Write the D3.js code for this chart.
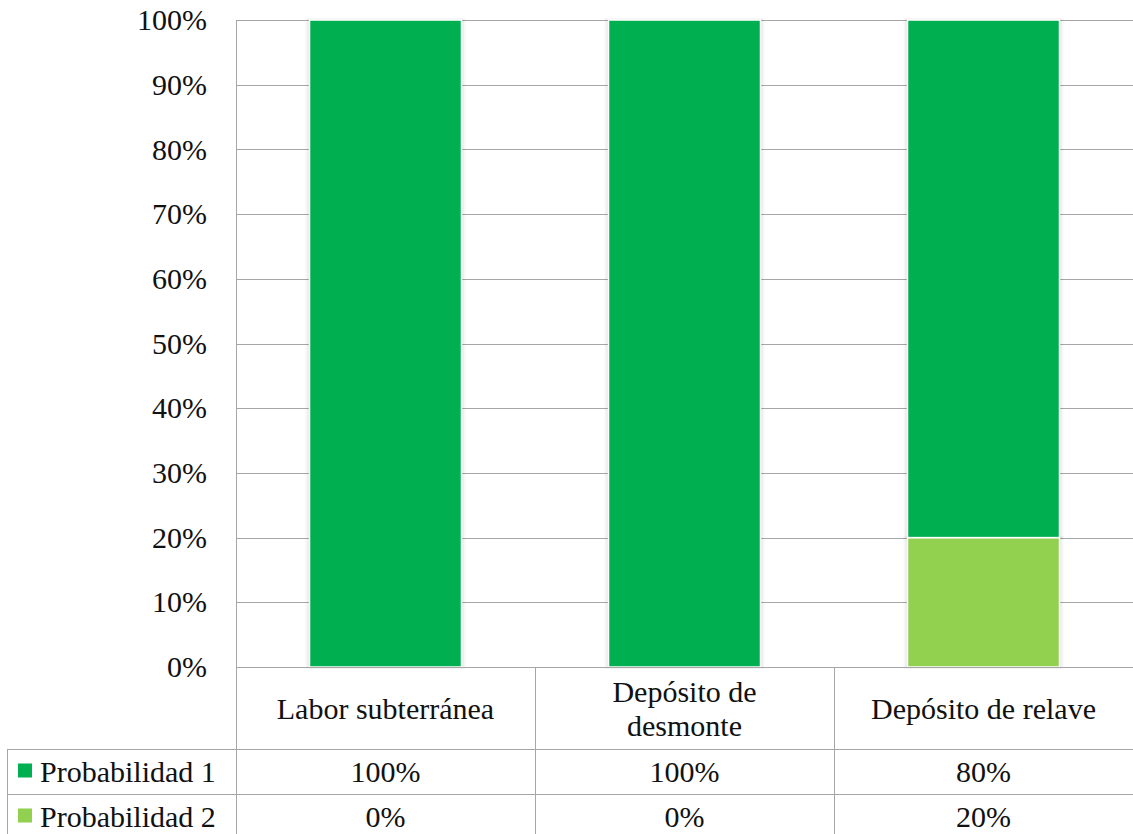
<!DOCTYPE html>
<html>
<head>
<meta charset="utf-8">
<script src="https://cdn.jsdelivr.net/npm/d3@7"></script>
<style>
  html, body { margin: 0; padding: 0; background: #ffffff; }
  svg { display: block; }
</style>
</head>
<body>
<svg id="s" width="1133" height="834"></svg>
<script>
// Categories and the two stacked series (shares of 1)
const categories = ["Labor subterránea", "Depósito de desmonte", "Depósito de relave"];
const categoryLines = [["Labor subterránea"], ["Depósito de", "desmonte"], ["Depósito de relave"]];
const seriesNames = ["Probabilidad 1", "Probabilidad 2"];
const probabilidad1 = [1.00, 1.00, 0.80];
const probabilidad2 = [0.00, 0.00, 0.20];
const tickValues = [0, 0.1, 0.2, 0.3, 0.4, 0.5, 0.6, 0.7, 0.8, 0.9, 1.0];

const colors = ["#00B050", "#92D050"];
const lineColor = "#a6a6a6";
const FONT = '"Liberation Serif"';

const plot = { left: 236, right: 1133, top: 20, bottom: 667 };
const table = { left: 7, headerBottom: 749, rowH: 45 };

const svg = d3.select("#s");

const pad = 1 - 152 / 299;
const x = d3.scaleBand().domain(categories)
  .range([plot.left, plot.right])
  .paddingInner(pad).paddingOuter(pad / 2);
const step = x.step();
const colLeft = c => x(c) - step * pad / 2;

const y = d3.scaleLinear().domain([0, 1]).range([plot.bottom, plot.top]);

const label = sel => sel.style("font-family", FONT).style("font-size", "30px").style("fill", "#111");

// Horizontal gridlines
svg.append("g").selectAll("line").data(tickValues).join("line")
  .attr("x1", plot.left).attr("x2", plot.right)
  .attr("y1", d => Math.round(y(d)) + 0.5).attr("y2", d => Math.round(y(d)) + 0.5)
  .attr("stroke", lineColor).attr("stroke-width", 1);

// Y axis labels
const yAxis = d3.axisLeft(y).tickValues(tickValues).tickFormat(d3.format(".0%")).tickSize(0).tickPadding(29);
const yg = svg.append("g").attr("transform", `translate(${plot.left},0)`).call(yAxis);
yg.attr("font-family", null).attr("font-size", null);
yg.select(".domain").remove();
yg.selectAll("text").call(label);

// Stacked bars: Probabilidad 2 at the base, Probabilidad 1 above
const rows = categories.map((c, i) => ({ cat: c, p1: probabilidad1[i], p2: probabilidad2[i] }));
const stacked = d3.stack().keys(["p2", "p1"])(rows);
const keyColor = { p1: colors[0], p2: colors[1] };
const segments = stacked.flatMap(layer =>
  layer.filter(s => s[1] - s[0] > 0).map(s => ({ key: layer.key, s })));

// soft edge shading around each column
const shade = svg.append("g");
[4, 2.5, 1.2].forEach(w => {
  shade.selectAll(null).data(segments).join("rect")
    .attr("x", d => x(d.s.data.cat) - w)
    .attr("width", x.bandwidth() + 2 * w)
    .attr("y", d => y(d.s[1]) - w / 2)
    .attr("height", d => y(d.s[0]) - y(d.s[1]) + w)
    .attr("fill", "#000").attr("fill-opacity", 0.03);
});

svg.append("g").selectAll("rect").data(segments).join("rect")
  .attr("fill", d => keyColor[d.key])
  .attr("x", d => x(d.s.data.cat))
  .attr("width", x.bandwidth())
  .attr("y", d => y(d.s[1]))
  .attr("height", d => y(d.s[0]) - y(d.s[1]))
  .attr("stroke", "#ffffff").attr("stroke-width", 1.5);

// Data table lines
const tableBottom = table.headerBottom + 2 * table.rowH;
const g = svg.append("g").attr("stroke", lineColor).attr("stroke-width", 1);
g.append("line").attr("x1", plot.left + 0.5).attr("x2", plot.left + 0.5).attr("y1", plot.top).attr("y2", tableBottom);
g.append("line").attr("x1", plot.left).attr("x2", plot.right).attr("y1", plot.bottom + 0.5).attr("y2", plot.bottom + 0.5);
categories.slice(1).forEach(c => {
  const cx = Math.round(colLeft(c)) + 0.5;
  g.append("line").attr("x1", cx).attr("x2", cx).attr("y1", plot.bottom).attr("y2", tableBottom);
});
g.append("line").attr("x1", table.left + 0.5).attr("x2", table.left + 0.5).attr("y1", table.headerBottom).attr("y2", tableBottom);
[table.headerBottom, table.headerBottom + table.rowH, tableBottom].forEach(yy => {
  g.append("line").attr("x1", table.left).attr("x2", plot.right).attr("y1", yy + 0.5).attr("y2", yy + 0.5);
});

// Category header texts
const headerMid = (plot.bottom + table.headerBottom) / 2;
const lineH = 34;
categoryLines.forEach((lines, i) => {
  const cx = colLeft(categories[i]) + step / 2;
  const t = svg.append("text").attr("text-anchor", "middle").call(label);
  lines.forEach((ln, j) => {
    t.append("tspan").attr("x", cx)
      .attr("y", headerMid + (j - (lines.length - 1) / 2) * lineH)
      .attr("dy", "0.35em").text(ln);
  });
});

// Value rows with legend keys
const fmt = d3.format(".0%");
const seriesValues = [probabilidad1, probabilidad2];
seriesNames.forEach((name, r) => {
  const rowMid = table.headerBottom + r * table.rowH + table.rowH / 2;
  svg.append("rect").attr("x", 18).attr("y", rowMid - 8).attr("width", 14).attr("height", 14)
    .attr("fill", colors[r]);
  svg.append("text").attr("x", 40).attr("y", rowMid).attr("dy", "0.35em")
    .call(label).text(name);
  seriesValues[r].forEach((v, i) => {
    svg.append("text").attr("x", colLeft(categories[i]) + step / 2).attr("y", rowMid)
      .attr("dy", "0.35em").attr("text-anchor", "middle").call(label).text(fmt(v));
  });
});
</script>
</body>
</html>
